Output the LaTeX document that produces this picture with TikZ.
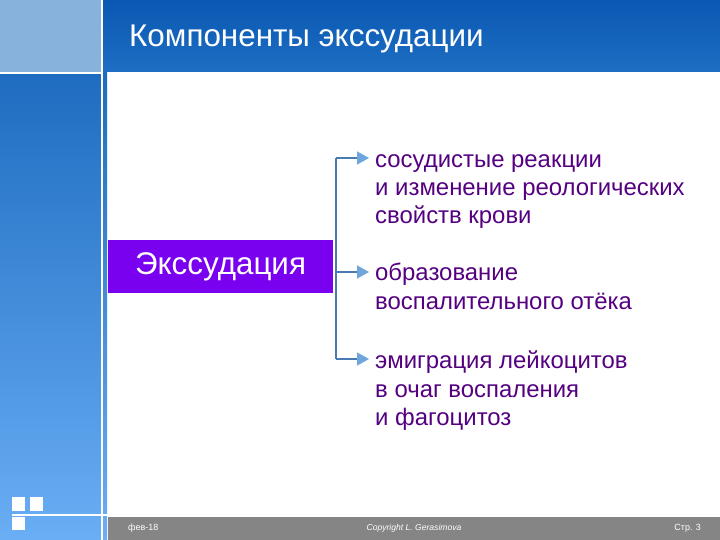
\documentclass[tikz,border=0pt]{standalone}
\usepackage{fontspec}
\setmainfont{Liberation Sans}
\usetikzlibrary{arrows.meta,calc}
\definecolor{titleblue}{RGB}{10,88,178}
\definecolor{titlelow}{RGB}{30,110,196}
\definecolor{stripdark}{RGB}{30,108,192}
\definecolor{striplight}{RGB}{106,174,245}
\definecolor{cornerblue}{RGB}{134,178,220}
\definecolor{boxviolet}{RGB}{122,0,240}
\definecolor{itemviolet}{RGB}{84,0,128}
\definecolor{linkblue}{RGB}{74,122,178}
\definecolor{tipblue}{RGB}{110,166,220}
\definecolor{footgray}{RGB}{133,133,133}

\begin{document}
\begin{tikzpicture}[x=1bp,y=-1bp,
    item/.style={anchor=north west,inner sep=0pt,align=left,text=itemviolet,
      font=\fontsize{24}{28.5}\selectfont},
    link/.style={draw=linkblue,line width=1.6bp},
    tip/.style={-{Triangle[length=12bp,width=13bp,fill=tipblue,color=tipblue]}},
    foot/.style={text=white,inner sep=0pt,font=\fontsize{9}{10}\selectfont}]
      \useasboundingbox (0,0) rectangle (720,540);

      % left strip and title bar
      \shade[top color=stripdark,bottom color=striplight] (0,72) rectangle (107,540);
      \fill[cornerblue] (0,0) rectangle (101,72);
      \shade[top color=titleblue,bottom color=titlelow] (101,0) rectangle (720,72);
      \fill[white] (101,0) rectangle (103,540);
      \fill[white] (0,72) rectangle (103,74);

      \node[anchor=base west,text=white,inner sep=0pt,font=\fontsize{31.5}{36}\selectfont]
        (title) at (129,47) {Компоненты экссудации};

      % footer
      \fill[footgray] (108,517) rectangle (720,540);
      \fill[white] (12,514) rectangle (108,515.5);
      \fill[white] (12,497) rectangle (25,511);
      \fill[white] (30,497) rectangle (43,511);
      \fill[white] (12,517) rectangle (25,530);
      \node[foot,anchor=west] (date) at (128,528) {фев-18};
      \node[foot,font=\fontsize{8.6}{10}\selectfont\itshape] (copy) at (414,528) {Copyright L. Gerasimova};
      \node[foot,anchor=east] (page) at (701,528) {Стр. 3};

      % main box and items
      \node[fill=boxviolet,text=white,minimum width=225bp,minimum height=53bp,
        inner sep=0pt,font=\fontsize{31.5}{36}\selectfont] (exs) at (220.5,266.5) {Экссудация};

      \node[item] (it1) at (375,154) {сосудистые реакции\\и изменение реологических\\свойств крови};
      \node[item] (it2) at (375,263) {образование\\воспалительного отёка};
      \node[item] (it3) at (375,351) {эмиграция лейкоцитов\\в очаг воспаления\\и фагоцитоз};

      \coordinate (br1) at (336,158);
      \coordinate (br2) at (336,272);
      \coordinate (br3) at (336,359);
      \coordinate (a1) at (369,158);
      \coordinate (a2) at (369,272);
      \coordinate (a3) at (369,359);

      \draw[link] (br1) -- (br3);
      \draw[link,tip] (br1) -- (a1);
      \draw[link,tip] (br2) -- (a2);
      \draw[link,tip] (br3) -- (a3);
    \end{tikzpicture}
\end{document}
